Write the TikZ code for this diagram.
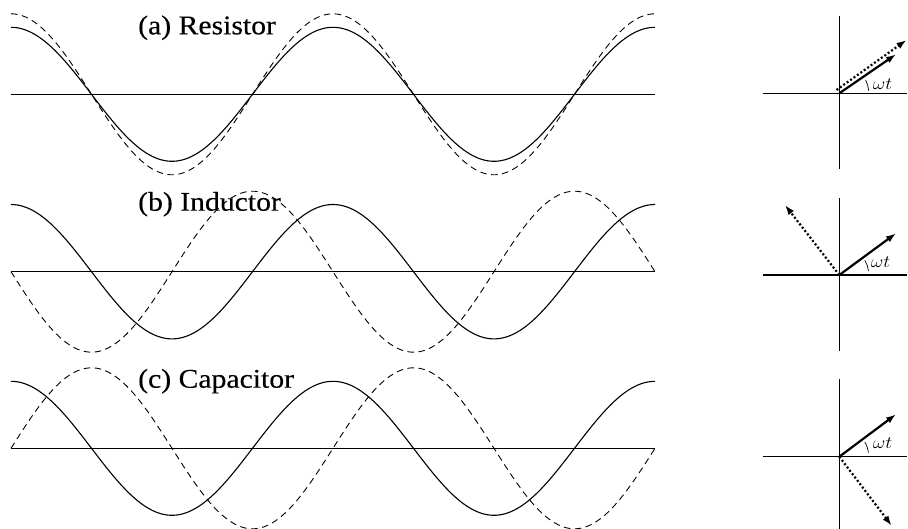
\documentclass[tikz,border=0pt]{standalone}
\usepackage{fontspec}
\setmainfont{Liberation Serif}[FakeBold=0.3]
\usetikzlibrary{arrows.meta}
\tikzset{
  axisline/.style={line width=1.1pt},
  wave/.style={line width=1.1pt},
  dwave/.style={line width=0.9pt, dash pattern=on 6.5pt off 4.5pt},
  phasor/.style={line width=2.2pt, -{Latex[length=10pt,width=7pt]}},
  dphasor/.style={line width=2.2pt, dash pattern=on 2pt off 2.2pt, -{Latex[length=10pt,width=7pt]}},
  anglearc/.style={line width=0.7pt},
  title/.style={anchor=base west, inner sep=0pt, font=\fontsize{27}{30}\selectfont},
  wlabel/.style={anchor=base west, inner sep=0pt, font=\fontsize{17}{20}\selectfont}
}
\begin{document}
\begin{tikzpicture}[x=1pt,y=-1pt]
\useasboundingbox (0,0) rectangle (908,529);
% ---------- (a) Resistor ----------
\coordinate (aL) at (11,94.3);
\coordinate (aR) at (655,94.3);
\draw[axisline] (aL) -- (aR);
\draw[wave] plot[domain=11:655, samples=220, smooth] (\x,{94.3-67*cos(1.118012*(\x-11))});
\draw[dwave] plot[domain=11:655, samples=220, smooth] (\x,{94.3-80.5*cos(1.118012*(\x-11))});
\node[title] (ta) at (138,34.3) {\scalebox{1.1}[1]{(a) Resistor}};
% ---------- (b) Inductor ----------
\coordinate (bL) at (11,271.7);
\coordinate (bR) at (655,271.7);
\draw[axisline] (bL) -- (bR);
\draw[wave] plot[domain=11:655, samples=220, smooth] (\x,{271.7-67.2*cos(1.118012*(\x-11))});
\draw[dwave] plot[domain=11:655, samples=220, smooth] (\x,{271.7+80.5*sin(1.118012*(\x-11))});
\node[title] (tb) at (138,210.7) {\scalebox{1.1}[1]{(b) Inductor}};
% ---------- (c) Capacitor ----------
\coordinate (cL) at (11,448.3);
\coordinate (cR) at (655,448.3);
\draw[axisline] (cL) -- (cR);
\draw[wave] plot[domain=11:655, samples=220, smooth] (\x,{448.3-67*cos(1.118012*(\x-11))});
\draw[dwave] plot[domain=11:655, samples=220, smooth] (\x,{448.3-80.5*sin(1.118012*(\x-11))});
\node[title] (tc) at (138,387.7) {\scalebox{1.1}[1]{(c) Capacitor}};
% ---------- phasor (a) ----------
\coordinate (Oa) at (839.3,93.3);
\coordinate (aW) at (762.7,93.3);
\coordinate (aE) at (907,93.3);
\coordinate (aN) at (839.3,16);
\coordinate (aS) at (839.3,169);
\draw[axisline] (aW) -- (aE);
\draw[axisline] (aN) -- (aS);
\coordinate (aIs) at (836.5,90);
\coordinate (aI) at (906.5,40);
\coordinate (aV) at (896,54.3);
\draw[dphasor] (aIs) -- (aI);
\draw[phasor] (Oa) -- (aV);
\draw[anglearc] (Oa) ++(-5:29.5) arc[start angle=-5, end angle=-27, radius=29.5];
\node[wlabel] (wa) at (872.7,89.5) {\scalebox{1.12}[1]{$\omega t$}};
% ---------- phasor (b) ----------
\coordinate (Ob) at (839.3,275);
\coordinate (bW) at (762.7,275);
\coordinate (bE) at (907,275);
\coordinate (bN) at (839.3,198.3);
\coordinate (bS) at (839.3,350.7);
\draw[axisline] (bW) -- (bE);
\draw[axisline] (bN) -- (bS);
\coordinate (bV) at (896,233.3);
\coordinate (bI) at (785,205);
\draw[dphasor] (Ob) -- (bI);
\draw[phasor] (Ob) -- (bV);
\draw[anglearc] (Ob) ++(-8:29.5) arc[start angle=-8, end angle=-30, radius=29.5];
\node[wlabel] (wb) at (870.7,267.3) {\scalebox{1.12}[1]{$\omega t$}};
% ---------- phasor (c) ----------
\coordinate (Oc) at (839.3,456.7);
\coordinate (cW) at (762.7,456.7);
\coordinate (cE) at (907,456.7);
\coordinate (cN) at (839.3,379.3);
\coordinate (cS) at (839.3,529);
\draw[axisline] (cW) -- (cE);
\draw[axisline] (cN) -- (cS);
\coordinate (cV) at (896,414.3);
\coordinate (cI) at (891.7,525.7);
\draw[dphasor] (Oc) -- (cI);
\draw[phasor] (Oc) -- (cV);
\draw[anglearc] (Oc) ++(-8:29.5) arc[start angle=-8, end angle=-30, radius=29.5];
\node[wlabel] (wc) at (872.7,448.3) {\scalebox{1.12}[1]{$\omega t$}};
\end{tikzpicture}
\end{document}
